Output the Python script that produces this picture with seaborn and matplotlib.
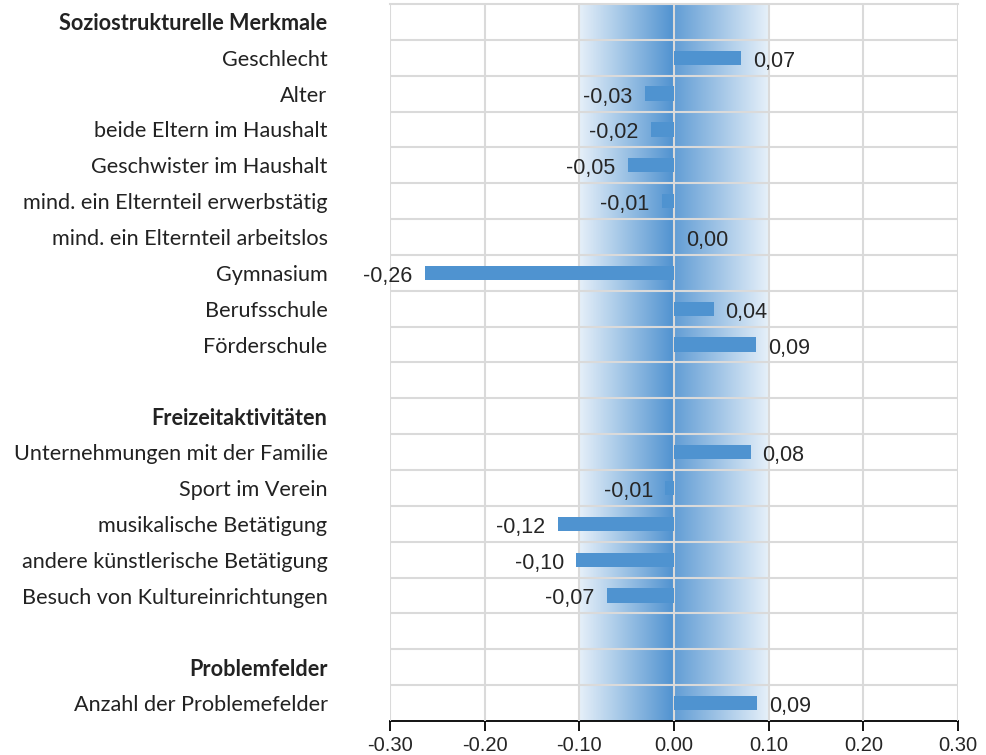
import numpy as np
import pandas as pd
import matplotlib
matplotlib.use('Agg')
import matplotlib.pyplot as plt
from matplotlib.colors import LinearSegmentedColormap
import seaborn as sns

# rows top to bottom; headers and blank spacer rows have no value
labels = ['Soziostrukturelle Merkmale', 'Geschlecht', 'Alter', 'beide Eltern im Haushalt',
          'Geschwister im Haushalt', 'mind. ein Elternteil erwerbstätig',
          'mind. ein Elternteil arbeitslos', 'Gymnasium', 'Berufsschule', 'Förderschule',
          ' ', 'Freizeitaktivitäten', 'Unternehmungen mit der Familie', 'Sport im Verein',
          'musikalische Betätigung', 'andere künstlerische Betätigung',
          'Besuch von Kultureinrichtungen', '  ', 'Problemfelder', 'Anzahl der Problemefelder']
values = [np.nan, 0.071, -0.031, -0.024, -0.049, -0.013, 0.0, -0.263, 0.042, 0.087,
          np.nan, np.nan, 0.081, -0.009, -0.1225, -0.103, -0.071, np.nan, np.nan, 0.088]
value_text = ['', '0,07', '-0,03', '-0,02', '-0,05', '-0,01', '0,00', '-0,26', '0,04', '0,09',
              '', '', '0,08', '-0,01', '-0,12', '-0,10', '-0,07', '', '', '0,09']
headers = ['Soziostrukturelle Merkmale', 'Freizeitaktivitäten', 'Problemfelder']
xticks = [-0.3, -0.2, -0.1, 0.0, 0.1, 0.2, 0.3]

df = pd.DataFrame({'label': labels, 'value': values})

sns.set_style('white')
plt.rcParams['font.family'] = ['Liberation Sans', 'DejaVu Sans']

fig = plt.figure(figsize=(9.86, 7.55), dpi=100)
ax = fig.add_axes([390/986, 34/755, 568/986, 717/755])

sns.barplot(data=df, x='value', y='label', order=labels, orient='h',
            color='#4f93d0', width=0.4, saturation=1, linewidth=0, ax=ax, zorder=3)

# shaded band between -0.10 and 0.10
xs = np.linspace(-0.1, 0.1, 400)
t = 1 - np.abs(xs) / 0.1
t = np.where(xs > 0, t * 0.88, t)
cmap = LinearSegmentedColormap.from_list('band', ['#e6f0f9', '#5092d0'])
ax.imshow(t[np.newaxis, :], cmap=cmap, vmin=0, vmax=1, aspect='auto',
          extent=[-0.1, 0.1, 19.5, -0.5], zorder=0.5, interpolation='bilinear')

ax.set_xlim(-0.3, 0.3)
ax.set_ylim(19.5, -0.5)

# grid
ax.set_axisbelow(False)
ax.set_xticks(xticks)
ax.set_xticklabels([f'{v:.2f}' for v in xticks], fontsize=14.5)
ax.set_yticks(np.arange(0.5, 19, 1), minor=True)
ax.grid(axis='x', which='major', color='#dadada', lw=1.5)
ax.grid(axis='y', which='minor', color='#dadada', lw=1.5)

for s in ['left', 'right']:
    ax.spines[s].set_visible(False)
ax.spines['top'].set_color('#dadada')
ax.spines['top'].set_linewidth(1.5)
ax.spines['bottom'].set_color('black')
ax.spines['bottom'].set_linewidth(1.3)
ax.tick_params(axis='x', which='major', direction='out', length=7, width=1.3,
               color='black', pad=4, bottom=True)
ax.tick_params(axis='y', which='both', length=0, pad=45)

ax.set_yticklabels(labels, fontsize=15.6, family='Lato', color='#222222')
for tl in ax.get_yticklabels():
    if tl.get_text() in headers:
        tl.set_fontweight('bold')
ax.set_xlabel('')
ax.set_ylabel('')

for i, (v, s) in enumerate(zip(values, value_text)):
    if s == '':
        continue
    if v >= 0:
        ax.annotate(s, (v, i), xytext=(8.5, -2.5), textcoords='offset points',
                    ha='left', va='center', fontsize=15.5, zorder=4)
    else:
        ax.annotate(s, (v, i), xytext=(-9, -2.5), textcoords='offset points',
                    ha='right', va='center', fontsize=15.5, zorder=4)

fig.savefig('out.png', dpi=100)
